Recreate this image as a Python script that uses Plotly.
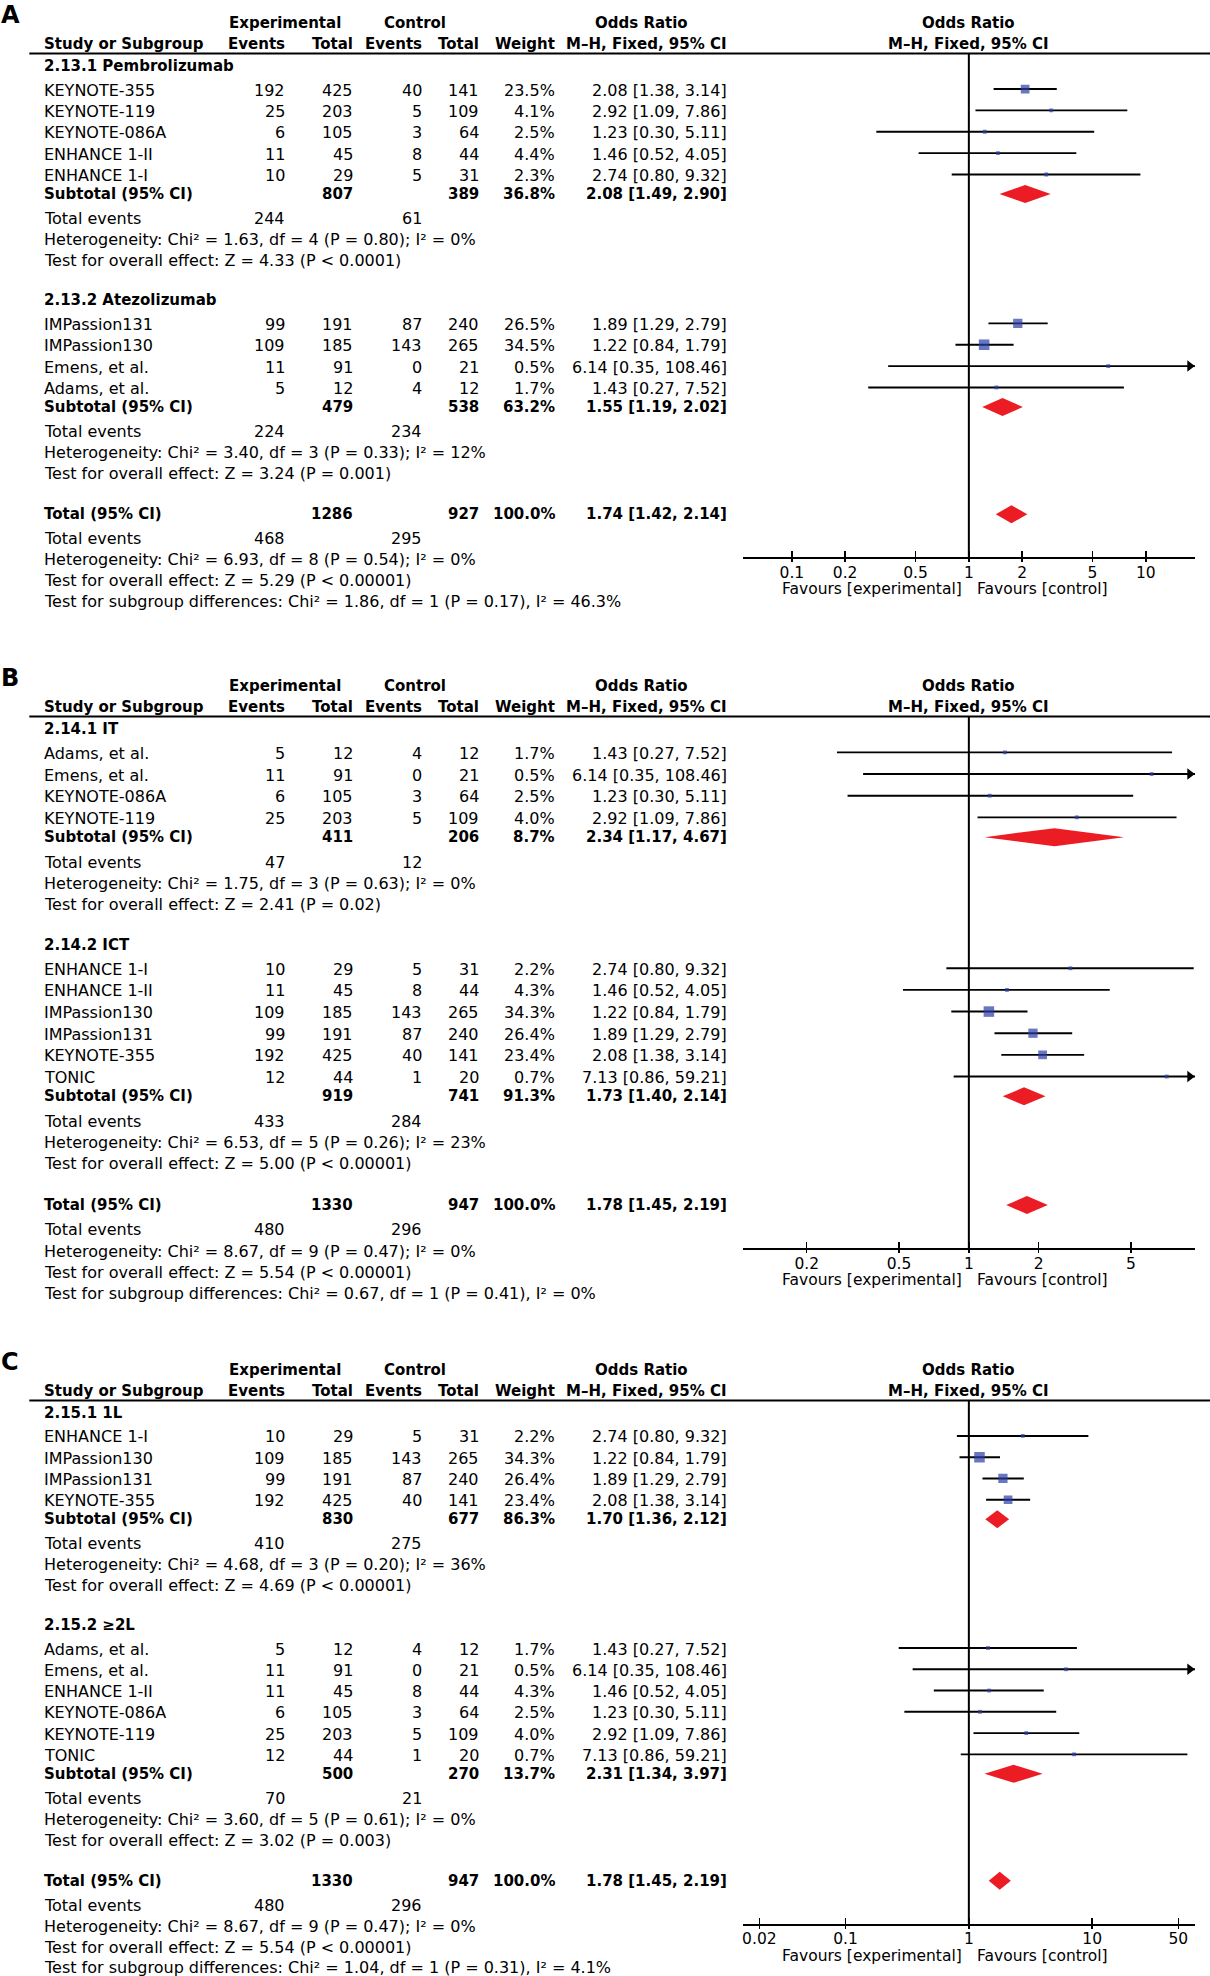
import math
import plotly.graph_objects as go

# ---------------- Panel A data ----------------
A_study = ["KEYNOTE-355", "KEYNOTE-119", "KEYNOTE-086A", "ENHANCE 1-II", "ENHANCE 1-I",
           "IMPassion131", "IMPassion130", "Emens, et al.", "Adams, et al."]
A_group = [0, 0, 0, 0, 0, 1, 1, 1, 1]
A_exp_events = [192, 25, 6, 11, 10, 99, 109, 11, 5]
A_exp_total = [425, 203, 105, 45, 29, 191, 185, 91, 12]
A_ctl_events = [40, 5, 3, 8, 5, 87, 143, 0, 4]
A_ctl_total = [141, 109, 64, 44, 31, 240, 265, 21, 12]
A_weight = [23.5, 4.1, 2.5, 4.4, 2.3, 26.5, 34.5, 0.5, 1.7]
A_or = [2.08, 2.92, 1.23, 1.46, 2.74, 1.89, 1.22, 6.14, 1.43]
A_lo = [1.38, 1.09, 0.30, 0.52, 0.80, 1.29, 0.84, 0.35, 0.27]
A_hi = [3.14, 7.86, 5.11, 4.05, 9.32, 2.79, 1.79, 108.46, 7.52]
A_sub_title = ["2.13.1 Pembrolizumab", "2.13.2 Atezolizumab"]
A_sub_exp_total = [807, 479]
A_sub_ctl_total = [389, 538]
A_sub_weight = [36.8, 63.2]
A_sub_or = [2.08, 1.55]
A_sub_lo = [1.49, 1.19]
A_sub_hi = [2.90, 2.02]
A_sub_exp_events = [244, 224]
A_sub_ctl_events = [61, 234]
A_sub_het = ["Heterogeneity: Chi² = 1.63, df = 4 (P = 0.80); I² = 0%",
             "Heterogeneity: Chi² = 3.40, df = 3 (P = 0.33); I² = 12%"]
A_sub_z = ["Test for overall effect: Z = 4.33 (P &lt; 0.0001)",
           "Test for overall effect: Z = 3.24 (P = 0.001)"]
A_tot_totals = [1286, 927]
A_tot_events = [468, 295]
A_tot_or = [1.74, 1.42, 2.14]
A_tot_text = ["Heterogeneity: Chi² = 6.93, df = 8 (P = 0.54); I² = 0%",
              "Test for overall effect: Z = 5.29 (P &lt; 0.00001)",
              "Test for subgroup differences: Chi² = 1.86, df = 1 (P = 0.17), I² = 46.3%"]
A_ticks = [0.1, 0.2, 0.5, 1, 2, 5, 10]
A_ticktext = ["0.1", "0.2", "0.5", "1", "2", "5", "10"]

# ---------------- Panel B data ----------------
B_study = ["Adams, et al.", "Emens, et al.", "KEYNOTE-086A", "KEYNOTE-119",
           "ENHANCE 1-I", "ENHANCE 1-II", "IMPassion130", "IMPassion131", "KEYNOTE-355", "TONIC"]
B_group = [0, 0, 0, 0, 1, 1, 1, 1, 1, 1]
B_exp_events = [5, 11, 6, 25, 10, 11, 109, 99, 192, 12]
B_exp_total = [12, 91, 105, 203, 29, 45, 185, 191, 425, 44]
B_ctl_events = [4, 0, 3, 5, 5, 8, 143, 87, 40, 1]
B_ctl_total = [12, 21, 64, 109, 31, 44, 265, 240, 141, 20]
B_weight = [1.7, 0.5, 2.5, 4.0, 2.2, 4.3, 34.3, 26.4, 23.4, 0.7]
B_or = [1.43, 6.14, 1.23, 2.92, 2.74, 1.46, 1.22, 1.89, 2.08, 7.13]
B_lo = [0.27, 0.35, 0.30, 1.09, 0.80, 0.52, 0.84, 1.29, 1.38, 0.86]
B_hi = [7.52, 108.46, 5.11, 7.86, 9.32, 4.05, 1.79, 2.79, 3.14, 59.21]
B_sub_title = ["2.14.1 IT", "2.14.2 ICT"]
B_sub_exp_total = [411, 919]
B_sub_ctl_total = [206, 741]
B_sub_weight = [8.7, 91.3]
B_sub_or = [2.34, 1.73]
B_sub_lo = [1.17, 1.40]
B_sub_hi = [4.67, 2.14]
B_sub_exp_events = [47, 433]
B_sub_ctl_events = [12, 284]
B_sub_het = ["Heterogeneity: Chi² = 1.75, df = 3 (P = 0.63); I² = 0%",
             "Heterogeneity: Chi² = 6.53, df = 5 (P = 0.26); I² = 23%"]
B_sub_z = ["Test for overall effect: Z = 2.41 (P = 0.02)",
           "Test for overall effect: Z = 5.00 (P &lt; 0.00001)"]
B_tot_totals = [1330, 947]
B_tot_events = [480, 296]
B_tot_or = [1.78, 1.45, 2.19]
B_tot_text = ["Heterogeneity: Chi² = 8.67, df = 9 (P = 0.47); I² = 0%",
              "Test for overall effect: Z = 5.54 (P &lt; 0.00001)",
              "Test for subgroup differences: Chi² = 0.67, df = 1 (P = 0.41), I² = 0%"]
B_ticks = [0.2, 0.5, 1, 2, 5]
B_ticktext = ["0.2", "0.5", "1", "2", "5"]

# ---------------- Panel C data ----------------
C_study = ["ENHANCE 1-I", "IMPassion130", "IMPassion131", "KEYNOTE-355",
           "Adams, et al.", "Emens, et al.", "ENHANCE 1-II", "KEYNOTE-086A", "KEYNOTE-119", "TONIC"]
C_group = [0, 0, 0, 0, 1, 1, 1, 1, 1, 1]
C_exp_events = [10, 109, 99, 192, 5, 11, 11, 6, 25, 12]
C_exp_total = [29, 185, 191, 425, 12, 91, 45, 105, 203, 44]
C_ctl_events = [5, 143, 87, 40, 4, 0, 8, 3, 5, 1]
C_ctl_total = [31, 265, 240, 141, 12, 21, 44, 64, 109, 20]
C_weight = [2.2, 34.3, 26.4, 23.4, 1.7, 0.5, 4.3, 2.5, 4.0, 0.7]
C_or = [2.74, 1.22, 1.89, 2.08, 1.43, 6.14, 1.46, 1.23, 2.92, 7.13]
C_lo = [0.80, 0.84, 1.29, 1.38, 0.27, 0.35, 0.52, 0.30, 1.09, 0.86]
C_hi = [9.32, 1.79, 2.79, 3.14, 7.52, 108.46, 4.05, 5.11, 7.86, 59.21]
C_sub_title = ["2.15.1 1L", "2.15.2 ≥2L"]
C_sub_exp_total = [830, 500]
C_sub_ctl_total = [677, 270]
C_sub_weight = [86.3, 13.7]
C_sub_or = [1.70, 2.31]
C_sub_lo = [1.36, 1.34]
C_sub_hi = [2.12, 3.97]
C_sub_exp_events = [410, 70]
C_sub_ctl_events = [275, 21]
C_sub_het = ["Heterogeneity: Chi² = 4.68, df = 3 (P = 0.20); I² = 36%",
             "Heterogeneity: Chi² = 3.60, df = 5 (P = 0.61); I² = 0%"]
C_sub_z = ["Test for overall effect: Z = 4.69 (P &lt; 0.00001)",
           "Test for overall effect: Z = 3.02 (P = 0.003)"]
C_tot_totals = [1330, 947]
C_tot_events = [480, 296]
C_tot_or = [1.78, 1.45, 2.19]
C_tot_text = ["Heterogeneity: Chi² = 8.67, df = 9 (P = 0.47); I² = 0%",
              "Test for overall effect: Z = 5.54 (P &lt; 0.00001)",
              "Test for subgroup differences: Chi² = 1.04, df = 1 (P = 0.31), I² = 4.1%"]
C_ticks = [0.02, 0.1, 1, 10, 50]
C_ticktext = ["0.02", "0.1", "1", "10", "50"]

# ---------------- layout constants ----------------
W, H = 1210, 1976
FONT = "DejaVu Sans"
BLUE = "#2A3DA6"
RED = "#EC1C24"
X_DOM = (742.7, 1195.0)
X_MID = (X_DOM[0] + X_DOM[1]) / 2
C_LABEL, C_EXP_EV, C_EXP_TOT, C_CTL_EV, C_CTL_TOT, C_W, C_OR = 43.4, 285.5, 354.0, 423.4, 480.0, 555.5, 727.8
TXT_SIZE, NUM_SIZE, BOLD_SIZE = 16, 16, 15

fig = go.Figure()
annotations, shapes = [], []
layout_axes = {}


def T(x, y, s, anchor="left", bold=False, size=None):
    if size is None:
        size = BOLD_SIZE if bold else NUM_SIZE
    annotations.append(dict(x=x / W, y=1 - y / H, xref="paper", yref="paper",
                            text=("<b>%s</b>" % s) if bold else s, xanchor=anchor, yanchor="middle",
                            showarrow=False, borderpad=0,
                            font=dict(family=FONT, size=size, color="black")))


def fmt_or(o, l, h):
    return "%.2f [%.2f, %.2f]" % (o, l, h)


def panel(i, letter, g0, gend, log_half, tickvals, ticktext,
          study, group, ee, et, ce, ct, wt, orr, lo, hi,
          sub_title, sub_et, sub_ct, sub_w, sub_or, sub_lo, sub_hi, sub_ee, sub_ce, sub_het, sub_z,
          tot_t, tot_e, tot_or, tot_text):
    rows = []
    off = 0.0
    for g in range(len(sub_title)):
        if g > 0:
            off += 39.5
        rows.append(("title", off, g))
        off += 24
        idxs = [k for k in range(len(study)) if group[k] == g]
        for j, k in enumerate(idxs):
            if j > 0:
                off += 21.3
            rows.append(("study", off, k))
        off += 18.5; rows.append(("sub", off, g))
        off += 24.5; rows.append(("sub_ev", off, g))
        off += 21; rows.append(("sub_het", off, g))
        off += 21; rows.append(("sub_z", off, g))
    off += 40.5; rows.append(("tot", off, None))
    off += 24.5; rows.append(("tot_ev", off, None))
    for j in range(3):
        off += 21; rows.append(("tot_txt", off, j))
    sc = (gend - g0) / off
    rows = [(kd, g0 + o * sc, d) for kd, o, d in rows]

    tot_y = [y for kd, y, d in rows if kd == "tot"][0]
    axis_px = tot_y + 43
    line_px = g0 - 12.5

    xn = "x" if i == 1 else "x%d" % i
    yn = "y" if i == 1 else "y%d" % i
    xa = "xaxis" if i == 1 else "xaxis%d" % i
    ya = "yaxis" if i == 1 else "yaxis%d" % i
    layout_axes[xa] = dict(domain=[X_DOM[0] / W, X_DOM[1] / W], type="log", range=[-log_half, log_half],
                           anchor=yn, showgrid=False, zeroline=False, showline=True, linecolor="black",
                           linewidth=2, ticks="inside", ticklen=6, tickwidth=1.5, tickcolor="black",
                           tickmode="array", tickvals=tickvals, ticktext=ticktext,
                           tickfont=dict(family=FONT, size=15.5, color="black"),
                           minor=dict(tickmode="array", tickvals=tickvals, ticks="outside", ticklen=3,
                                      tickwidth=1.5, tickcolor="black", showgrid=False),
                           fixedrange=True)
    layout_axes[ya] = dict(domain=[1 - axis_px / H, 1 - line_px / H], range=[axis_px, line_px],
                           anchor=xn, visible=False, showgrid=False, zeroline=False, fixedrange=True)

    # headers
    T(0, g0 - 51, letter, bold=True, size=24)
    h1, h2 = g0 - 43, g0 - 22
    T(C_LABEL, h2, "Study or Subgroup", bold=True)
    T(285, h1, "Experimental", anchor="center", bold=True)
    T(415, h1, "Control", anchor="center", bold=True)
    T(641, h1, "Odds Ratio", anchor="center", bold=True)
    T(C_EXP_EV, h2, "Events", anchor="right", bold=True)
    T(C_EXP_TOT, h2, "Total", anchor="right", bold=True)
    T(C_CTL_EV, h2, "Events", anchor="right", bold=True)
    T(C_CTL_TOT, h2, "Total", anchor="right", bold=True)
    T(C_W, h2, "Weight", anchor="right", bold=True)
    T(C_OR, h2, "M–H, Fixed, 95% CI", anchor="right", bold=True)
    T(X_MID, h1, "Odds Ratio", anchor="center", bold=True)
    T(X_MID, h2, "M–H, Fixed, 95% CI", anchor="center", bold=True)
    shapes.append(dict(type="line", xref="paper", yref="paper", x0=29.3 / W, x1=1,
                       y0=1 - line_px / H, y1=1 - line_px / H, line=dict(color="black", width=1.8)))
    # favours
    T(X_MID - 5.5, axis_px + 32, "Favours [experimental]", anchor="right", size=15.5)
    T(X_MID + 7, axis_px + 32, "Favours [control]", anchor="left", size=15.5)

    ci_x, ci_y, sq_x, sq_y, sq_s, ar_y = [], [], [], [], [], []
    px_per_dec = (X_DOM[1] - X_DOM[0]) / (2 * log_half)
    for kd, y, d in rows:
        if kd == "title":
            T(C_LABEL, y, sub_title[d], bold=True)
        elif kd == "study":
            k = d
            T(C_LABEL, y, study[k], size=TXT_SIZE)
            T(C_EXP_EV, y, str(ee[k]), anchor="right")
            T(C_EXP_TOT, y, str(et[k]), anchor="right")
            T(C_CTL_EV, y, str(ce[k]), anchor="right")
            T(C_CTL_TOT, y, str(ct[k]), anchor="right")
            T(C_W, y, "%.1f%%" % wt[k], anchor="right")
            T(C_OR, y, fmt_or(orr[k], lo[k], hi[k]), anchor="right")
            ci_x += [lo[k], hi[k], None]
            ci_y += [y - 1, y - 1, None]
            sq_x.append(orr[k]); sq_y.append(y - 1)
            sq_s.append(max(3.8, 18 * math.sqrt(wt[k] / 100.0)))
            if math.log10(hi[k]) > log_half:
                ar_y.append(y - 1)
        elif kd == "sub":
            g = d
            T(C_LABEL, y, "Subtotal (95% CI)", bold=True)
            T(C_EXP_TOT, y, str(sub_et[g]), anchor="right", bold=True)
            T(C_CTL_TOT, y, str(sub_ct[g]), anchor="right", bold=True)
            T(C_W, y, "%.1f%%" % sub_w[g], anchor="right", bold=True)
            T(C_OR, y, fmt_or(sub_or[g], sub_lo[g], sub_hi[g]), anchor="right", bold=True)
            fig.add_trace(go.Scatter(x=[sub_lo[g], sub_or[g], sub_hi[g], sub_or[g], sub_lo[g]],
                                     y=[y, y - 9, y, y + 9, y], mode="lines", fill="toself",
                                     fillcolor=RED, line=dict(width=0, color=RED),
                                     xaxis=xn, yaxis=yn, hoverinfo="skip"))
        elif kd == "sub_ev":
            g = d
            T(C_LABEL, y, "Total events", size=TXT_SIZE)
            T(C_EXP_EV, y, str(sub_ee[g]), anchor="right")
            T(C_CTL_EV, y, str(sub_ce[g]), anchor="right")
        elif kd == "sub_het":
            T(C_LABEL, y, sub_het[d], size=TXT_SIZE)
        elif kd == "sub_z":
            T(C_LABEL, y, sub_z[d], size=TXT_SIZE)
        elif kd == "tot":
            T(C_LABEL, y, "Total (95% CI)", bold=True)
            T(C_EXP_TOT, y, str(tot_t[0]), anchor="right", bold=True)
            T(C_CTL_TOT, y, str(tot_t[1]), anchor="right", bold=True)
            T(C_W, y, "100.0%", anchor="right", bold=True)
            T(C_OR, y, fmt_or(*tot_or), anchor="right", bold=True)
            fig.add_trace(go.Scatter(x=[tot_or[1], tot_or[0], tot_or[2], tot_or[0], tot_or[1]],
                                     y=[y, y - 9, y, y + 9, y], mode="lines", fill="toself",
                                     fillcolor=RED, line=dict(width=0, color=RED),
                                     xaxis=xn, yaxis=yn, hoverinfo="skip"))
        elif kd == "tot_ev":
            T(C_LABEL, y, "Total events", size=TXT_SIZE)
            T(C_EXP_EV, y, str(tot_e[0]), anchor="right")
            T(C_CTL_EV, y, str(tot_e[1]), anchor="right")
        elif kd == "tot_txt":
            T(C_LABEL, y - (1 if d == 2 else 0), tot_text[d], size=TXT_SIZE)

    # reference line at OR = 1
    fig.add_trace(go.Scatter(x=[1, 1], y=[line_px, axis_px], mode="lines",
                             line=dict(color="black", width=2), xaxis=xn, yaxis=yn, hoverinfo="skip"))
    fig.add_trace(go.Scatter(x=ci_x, y=ci_y, mode="lines", line=dict(color="black", width=1.9),
                             xaxis=xn, yaxis=yn, hoverinfo="skip"))
    fig.add_trace(go.Scatter(x=sq_x, y=sq_y, mode="markers",
                             marker=dict(symbol="square", size=sq_s, color=BLUE, line=dict(width=0)),
                             xaxis=xn, yaxis=yn, hoverinfo="skip"))
    if ar_y:
        ax_x = 10 ** (log_half - 5.2 / px_per_dec)
        fig.add_trace(go.Scatter(x=[ax_x] * len(ar_y), y=ar_y, mode="markers", cliponaxis=False,
                                 marker=dict(symbol="triangle-right", size=10, color="black"),
                                 xaxis=xn, yaxis=yn, hoverinfo="skip"))


panel(1, "A", 66, 602, 1.278, A_ticks, A_ticktext,
      A_study, A_group, A_exp_events, A_exp_total, A_ctl_events, A_ctl_total, A_weight, A_or, A_lo, A_hi,
      A_sub_title, A_sub_exp_total, A_sub_ctl_total, A_sub_weight, A_sub_or, A_sub_lo, A_sub_hi,
      A_sub_exp_events, A_sub_ctl_events, A_sub_het, A_sub_z,
      A_tot_totals, A_tot_events, A_tot_or, A_tot_text)
panel(2, "B", 729, 1294, 0.975, B_ticks, B_ticktext,
      B_study, B_group, B_exp_events, B_exp_total, B_ctl_events, B_ctl_total, B_weight, B_or, B_lo, B_hi,
      B_sub_title, B_sub_exp_total, B_sub_ctl_total, B_sub_weight, B_sub_or, B_sub_lo, B_sub_hi,
      B_sub_exp_events, B_sub_ctl_events, B_sub_het, B_sub_z,
      B_tot_totals, B_tot_events, B_tot_or, B_tot_text)
panel(3, "C", 1413, 1968, 1.834, C_ticks, C_ticktext,
      C_study, C_group, C_exp_events, C_exp_total, C_ctl_events, C_ctl_total, C_weight, C_or, C_lo, C_hi,
      C_sub_title, C_sub_exp_total, C_sub_ctl_total, C_sub_weight, C_sub_or, C_sub_lo, C_sub_hi,
      C_sub_exp_events, C_sub_ctl_events, C_sub_het, C_sub_z,
      C_tot_totals, C_tot_events, C_tot_or, C_tot_text)

fig.update_layout(width=W, height=H, margin=dict(l=0, r=0, t=0, b=0), autosize=False,
                  paper_bgcolor="white", plot_bgcolor="rgba(0,0,0,0)", showlegend=False,
                  annotations=annotations, shapes=shapes, **layout_axes)
fig.write_html("out.html", config={"displayModeBar": False, "staticPlot": True},
               post_script="document.body.style.margin='0';document.body.style.overflow='hidden';")
